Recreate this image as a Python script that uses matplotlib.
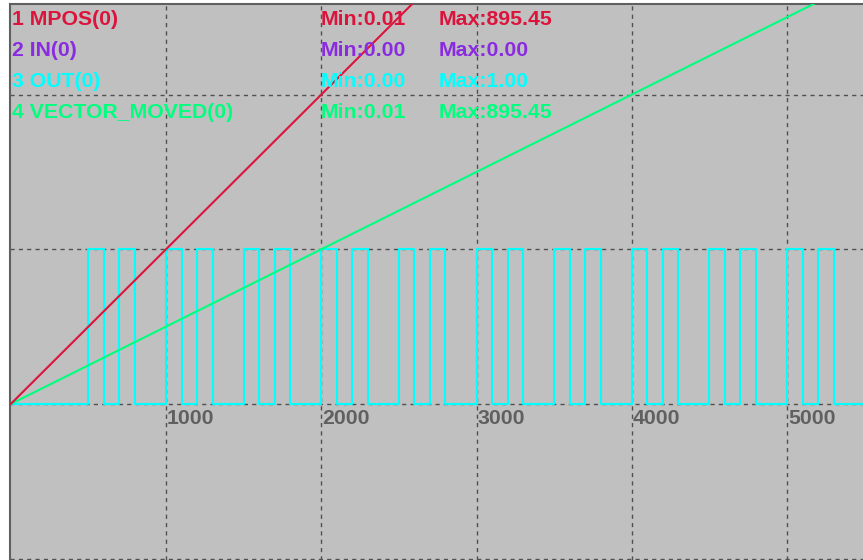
import matplotlib
matplotlib.use("Agg")
import matplotlib.pyplot as plt

# ---- data (display units of the scope trace) ----
mpos_t = [0, 3000]
mpos_v = [0, 3.0]
vec_t = [0, 6000]
vec_v = [0, 3.0]
out_t = [0, 500, 600, 700, 800, 1000, 1100, 1200, 1300, 1500, 1600, 1700, 1800,
         2000, 2100, 2200, 2300, 2500, 2600, 2700, 2800, 3000, 3100, 3200, 3300,
         3500, 3600, 3700, 3800, 4000, 4100, 4200, 4300, 4500, 4600, 4700, 4800,
         5000, 5100, 5200, 5300, 6000]
out_v = [0, 1, 0, 1, 0, 1, 0, 1, 0, 1, 0, 1, 0,
         1, 0, 1, 0, 1, 0, 1, 0, 1, 0, 1, 0,
         1, 0, 1, 0, 1, 0, 1, 0, 1, 0, 1, 0,
         1, 0, 1, 0, 0]

x_ticks = [1000, 2000, 3000, 4000, 5000]
x_tick_labels = ["1000", "2000", "3000", "4000", "5000"]
y_grid = [-1, 0, 1, 2]

names = ["1 MPOS(0)", "2 IN(0)", "3 OUT(0)", "4 VECTOR_MOVED(0)"]
mins = ["Min:0.01", "Min:0.00", "Min:0.00", "Min:0.01"]
maxs = ["Max:895.45", "Max:0.00", "Max:1.00", "Max:895.45"]
colors = ["#DC143C", "#8A2BE2", "#00FFFF", "#00FF7F"]

W, H = 863, 560
fig = plt.figure(figsize=(W / 100, H / 100), dpi=100)
fig.patch.set_facecolor("white")

left_px, top_px = 10.0, 3.5
ax = fig.add_axes([left_px / W, 0, (W - left_px) / W, (H - top_px) / H])
ax.set_facecolor("#C0C0C0")

sx = 0.15525   # px per unit in x
x0 = 10.75
sy = 154.7     # px per unit in y
y0 = 404.0
ax.set_xlim((left_px - x0) / sx, (W - x0) / sx)
ax.set_ylim(-(H - y0) / sy, (y0 - top_px) / sy)

gc = "#505050"
for xv in x_ticks:
    ax.axvline(xv, color=gc, lw=1.0, ls=(0, (3, 3)), zorder=1)
for yv in y_grid:
    ax.axhline(yv, color=gc, lw=1.0, ls=(0, (3, 3)), zorder=1)

ax.step(out_t, out_v, where="post", color=colors[2], lw=1.5, zorder=3)
ax.plot(vec_t, vec_v, color=colors[3], lw=1.5, zorder=4)
ax.plot(mpos_t, mpos_v, color=colors[0], lw=1.5, zorder=5)

ax.set_xticks([])
ax.set_yticks([])
for s in ["right", "bottom"]:
    ax.spines[s].set_visible(False)
for s in ["left", "top"]:
    ax.spines[s].set_color("#606060")
    ax.spines[s].set_linewidth(1.5)

font = dict(family="Liberation Sans", weight="bold", fontsize=15.3)

# x labels placed just below the zero line, right of each gridline
for xv, lab in zip(x_ticks, x_tick_labels):
    fx = (x0 + xv * sx + 1) / W
    fig.text(fx, 1 - 424 / H, lab, color="#606060", ha="left", va="baseline", **font)

# legend-like header rows
for i in range(4):
    by = 1 - (25 + 31 * i) / H
    fig.text(12 / W, by, names[i], color=colors[i], ha="left", va="baseline", **font)
    fig.text(321 / W, by, mins[i], color=colors[i], ha="left", va="baseline", **font)
    fig.text(439 / W, by, maxs[i], color=colors[i], ha="left", va="baseline", **font)

fig.savefig("out.png", dpi=100)
